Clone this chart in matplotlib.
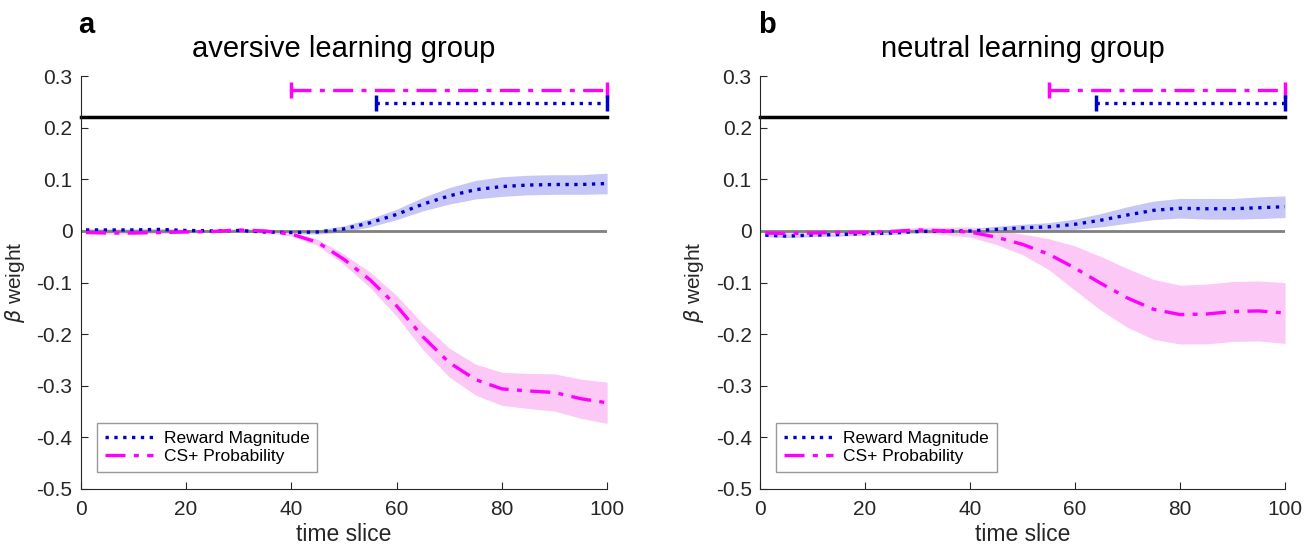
import numpy as np
import matplotlib
matplotlib.use("Agg")
import matplotlib.pyplot as plt

plt.rcParams['font.family'] = ['Liberation Sans', 'DejaVu Sans']
plt.rcParams['mathtext.fontset'] = 'dejavusans'

# time slices sampled every 5
x = [1, 5, 10, 15, 20, 25, 30, 35, 40, 45, 50, 55, 60, 65, 70, 75, 80, 85, 90, 95, 100]

# aversive group
rm_a = [0.002, 0.002, 0.002, 0.003, 0.001, 0.0, 0.001, -0.002, -0.003, -0.002, 0.004,
        0.016, 0.032, 0.052, 0.068, 0.080, 0.086, 0.089, 0.090, 0.090, 0.092]
rm_a_se = [0.002, 0.002, 0.002, 0.002, 0.002, 0.002, 0.002, 0.002, 0.003, 0.004, 0.006,
           0.008, 0.010, 0.013, 0.016, 0.018, 0.019, 0.019, 0.019, 0.019, 0.020]
cs_a = [-0.003, -0.004, -0.004, -0.003, -0.002, -0.001, 0.002, 0.0, -0.006, -0.022, -0.055,
        -0.095, -0.145, -0.205, -0.255, -0.288, -0.306, -0.310, -0.313, -0.325, -0.333]
cs_a_se = [0.002, 0.002, 0.002, 0.002, 0.002, 0.002, 0.003, 0.003, 0.004, 0.006, 0.010,
           0.015, 0.020, 0.025, 0.028, 0.030, 0.032, 0.034, 0.036, 0.038, 0.040]

# neutral group
rm_b = [-0.008, -0.010, -0.008, -0.007, -0.005, -0.004, -0.001, 0.0, 0.0, 0.003, 0.006,
        0.008, 0.013, 0.021, 0.031, 0.040, 0.044, 0.043, 0.043, 0.045, 0.047]
rm_b_se = [0.003, 0.003, 0.003, 0.003, 0.003, 0.003, 0.003, 0.004, 0.005, 0.006, 0.007,
           0.008, 0.010, 0.013, 0.016, 0.018, 0.019, 0.020, 0.020, 0.021, 0.021]
cs_b = [-0.004, -0.005, -0.004, -0.003, -0.003, -0.001, 0.002, 0.0, -0.002, -0.012, -0.026,
        -0.045, -0.072, -0.102, -0.130, -0.152, -0.162, -0.161, -0.156, -0.155, -0.159]
cs_b_se = [0.003, 0.003, 0.003, 0.003, 0.003, 0.004, 0.005, 0.007, 0.010, 0.014, 0.020,
           0.030, 0.043, 0.052, 0.057, 0.058, 0.057, 0.058, 0.058, 0.058, 0.059]

# significant clusters (start slice, end slice)
sig_cs_a = [40, 100]
sig_rm_a = [56, 100]
sig_cs_b = [55, 100]
sig_rm_b = [64, 100]

titles = ['aversive learning group', 'neutral learning group']

blue = '#0000CC'
mag = '#FF00FF'
dashdot = (0, (6, 2.5, 1.5, 2.5))

fig = plt.figure(figsize=(13.11, 5.49), dpi=100)
axA = fig.add_axes([0.0616, 0.1093, 0.4015, 0.752])
axB = fig.add_axes([0.5797, 0.1093, 0.4005, 0.752])

panels = [(axA, rm_a, rm_a_se, cs_a, cs_a_se, sig_cs_a, sig_rm_a),
          (axB, rm_b, rm_b_se, cs_b, cs_b_se, sig_cs_b, sig_rm_b)]

for i, (ax, rm, rm_se, cs, cs_se, scs, srm) in enumerate(panels):
    rm = np.array(rm); rm_se = np.array(rm_se)
    cs = np.array(cs); cs_se = np.array(cs_se)
    ax.fill_between(x, rm - rm_se, rm + rm_se, color='#c6c6f7', lw=0, zorder=1)
    ax.fill_between(x, cs - cs_se, cs + cs_se, color='#fcc8f6', lw=0, zorder=1)
    ax.plot([0, 100], [0, 0], color='#808080', lw=2, zorder=2)
    l1, = ax.plot(x, rm, color=blue, ls=':', lw=2.4, zorder=3, label='Reward Magnitude')
    l2, = ax.plot(x, cs, color=mag, ls=dashdot, lw=2.4, zorder=3, label='CS+ Probability')
    # significance bars
    ax.plot([0, 100], [0.22, 0.22], color='black', lw=2.5, clip_on=False)
    ax.plot(scs, [0.273, 0.273], color=mag, ls=dashdot, lw=2.4,
            marker='|', ms=11, mew=2.5, clip_on=False)
    ax.plot(srm, [0.247, 0.247], color=blue, ls=':', lw=2.4,
            marker='|', ms=11, mew=2.5, clip_on=False)

    ax.set_xlim(0, 100)
    ax.set_ylim(-0.5, 0.3)
    ax.set_xticks([0, 20, 40, 60, 80, 100])
    ax.set_yticks([-0.5, -0.4, -0.3, -0.2, -0.1, 0, 0.1, 0.2, 0.3])
    ax.set_yticklabels(['-0.5', '-0.4', '-0.3', '-0.2', '-0.1', '0', '0.1', '0.2', '0.3'])
    ax.spines['top'].set_visible(False)
    ax.spines['right'].set_visible(False)
    for s in ['left', 'bottom']:
        ax.spines[s].set_color('#262626')
        ax.spines[s].set_linewidth(0.8)
    ax.tick_params(axis='both', direction='in', length=5, width=0.8, labelsize=15,
                   colors='#262626', labelcolor='#262626')
    ax.tick_params(axis='x', pad=8)
    ax.tick_params(axis='y', pad=6)
    ax.set_xlabel('time slice', fontsize=16.5, labelpad=3, color='#262626')
    ax.set_ylabel(r'$\beta$ weight', fontsize=15, color='#262626')
    ax.yaxis.set_label_coords(-0.102, 0.5)
    ax.set_title(titles[i], fontsize=21, pad=14, color='black')

    leg = ax.legend(handles=[l1, l2], loc='lower left', bbox_to_anchor=(0.031, 0.041),
                    borderaxespad=0, fontsize=12.5, frameon=True, fancybox=False,
                    handlelength=2.8, borderpad=0.45, labelspacing=0.2, handletextpad=0.6)
    leg.get_frame().set_edgecolor('#808080')
    leg.get_frame().set_linewidth(1.0)

fig.text(0.0595, 0.94, 'a', fontsize=21, fontweight='bold')
fig.text(0.578, 0.94, 'b', fontsize=21, fontweight='bold')

fig.savefig('out.png', dpi=100)
